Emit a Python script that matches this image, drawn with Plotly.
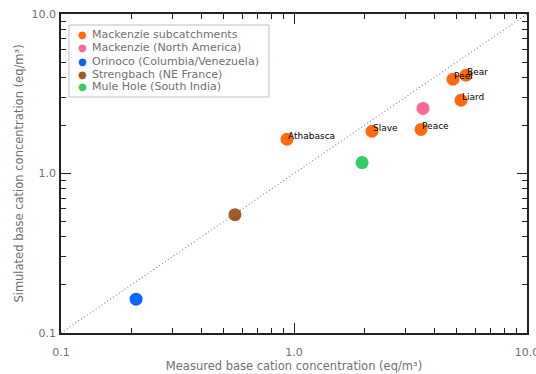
import math
import plotly.graph_objects as go

# Data
mack_names = ["Athabasca", "Slave", "Peace", "Liard", "Peel", "Bear"]
mack_meas = [0.933, 2.16, 3.51, 5.21, 4.81, 5.47]
mack_sim = [1.64, 1.84, 1.89, 2.88, 3.90, 4.13]

mackNA_meas = [3.58]
mackNA_sim = [2.56]
orinoco_meas = [0.21]
orinoco_sim = [0.163]
streng_meas = [0.558]
streng_sim = [0.552]
mule_meas = [1.96]
mule_sim = [1.17]

one_to_one = [0.1, 10.0]
tick_vals = [0.1, 1.0, 10.0]
tick_text = ["0.1", "1.0", "10.0"]
minor_vals = [0.2, 0.3, 0.4, 0.5, 0.6, 0.7, 0.8, 0.9,
              2, 3, 4, 5, 6, 7, 8, 9]

legend_names = ["Mackenzie subcatchments", "Mackenzie (North America)",
                "Orinoco (Columbia/Venezuela)", "Strengbach (NE France)",
                "Mule Hole (South India)"]
colors = ["#FF6A10", "#FF6699", "#0A64FF", "#9E5A28", "#33CC66"]

FONT = "DejaVu Sans"
GRAY = "#707070"

W, H = 536, 374
ML, MR, MT, MB = 61, 9, 14, 41
PW, PH = W - ML - MR, H - MT - MB


def px_x(p):
    return (p - ML) / PW


def px_y(p):
    return (H - MB - p) / PH


fig = go.Figure()
fig.add_trace(go.Scatter(x=one_to_one, y=one_to_one, mode="lines",
                         line=dict(color="#8c8c8c", width=1.2, dash="1px,2.5px"),
                         showlegend=False, hoverinfo="skip"))
# invisible copy on the minor-tick overlay axes so they get drawn
fig.add_trace(go.Scatter(x=one_to_one, y=one_to_one, mode="lines",
                         xaxis="x2", yaxis="y2", opacity=0,
                         showlegend=False, hoverinfo="skip"))

ms = 13
series = [(mack_meas, mack_sim), (mackNA_meas, mackNA_sim),
          (orinoco_meas, orinoco_sim), (streng_meas, streng_sim),
          (mule_meas, mule_sim)]
for (xs, ys), c, n in zip(series, colors, legend_names):
    fig.add_trace(go.Scatter(x=xs, y=ys, mode="markers", name=n,
                             marker=dict(color=c, size=ms, line=dict(width=0)),
                             showlegend=False))

# point labels, starting at the marker centre (log axes -> log10 coords)
for xv, yv, name in zip(mack_meas, mack_sim, mack_names):
    fig.add_annotation(x=math.log10(xv), y=math.log10(yv), xref="x", yref="y",
                       text=name, showarrow=False, xanchor="left", yanchor="middle",
                       xshift=-1, yshift=3,
                       font=dict(family=FONT, size=9, color="black"))

# legend box
fig.add_shape(type="rect", xref="paper", yref="paper",
              x0=px_x(69), x1=px_x(269), y0=px_y(97), y1=px_y(25),
              line=dict(color="#bdbdbd", width=1), fillcolor="white", layer="above")
row_px = [34, 47.5, 61, 74, 87]
for rp, c, n in zip(row_px, colors, legend_names):
    fig.add_annotation(xref="paper", yref="paper", x=px_x(82), y=px_y(rp),
                       xanchor="center", yanchor="middle", showarrow=False,
                       text="●", font=dict(family=FONT, size=10, color=c))
    fig.add_annotation(xref="paper", yref="paper", x=px_x(90), y=px_y(rp),
                       xanchor="left", yanchor="middle", showarrow=False,
                       text=n, font=dict(family=FONT, size=11, color=GRAY))

axis_common = dict(
    type="log", range=[-1, 1], tickmode="array", tickvals=tick_vals, ticktext=tick_text,
    ticks="inside", ticklen=10, tickwidth=1.3, tickcolor="#222",
    showline=True, linecolor="#222", linewidth=1.6, mirror="allticks",
    showgrid=False, zeroline=False, ticklabeloverflow="allow", automargin=False,
    tickfont=dict(family=FONT, size=11, color=GRAY),
)
minor_common = dict(
    type="log", range=[-1, 1], tickmode="array", tickvals=minor_vals,
    ticks="inside", ticklen=5, tickwidth=1.2, tickcolor="#222",
    showticklabels=False, showline=False, mirror="allticks",
    showgrid=False, zeroline=False, automargin=False,
)

fig.update_layout(
    xaxis=dict(**axis_common, ticklabelstandoff=8,
               title=dict(text="Measured base cation concentration (eq/m³)",
                          font=dict(family=FONT, size=11.5, color=GRAY), standoff=4)),
    yaxis=dict(**axis_common, ticklabelstandoff=1,
               title=dict(text="Simulated base cation concentration (eq/m³)",
                          font=dict(family=FONT, size=11.5, color=GRAY), standoff=5)),
    xaxis2=dict(**minor_common, overlaying="x", anchor="y2", side="bottom"),
    yaxis2=dict(**minor_common, overlaying="y", anchor="x2", side="left"),
    width=W, height=H,
    margin=dict(l=ML, r=MR, t=MT, b=MB, autoexpand=False),
    plot_bgcolor="white", paper_bgcolor="white",
    showlegend=False,
)

fig.write_html("out.html", config={"displayModeBar": False},
               post_script="document.body.style.margin='0';")
